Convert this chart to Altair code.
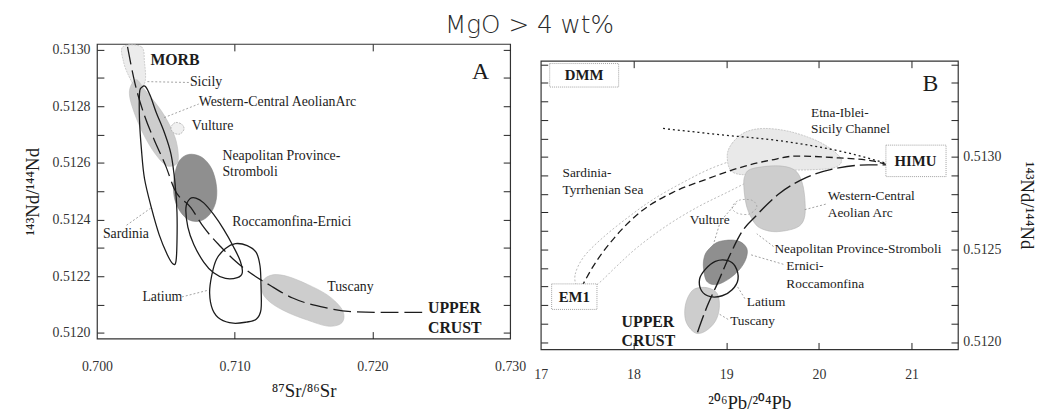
import altair as alt
import pandas as pd

# ---------------- Panel A : 87Sr/86Sr vs 143Nd/144Nd ----------------
sicily_a_x = [0.70187, 0.70323, 0.70345, 0.70352, 0.70323, 0.70273, 0.70230, 0.70194]
sicily_a_y = [0.51301, 0.51301, 0.512955, 0.512894, 0.512866, 0.512873, 0.512908, 0.512955]
wca_a_x = [0.70244, 0.70287, 0.70345, 0.70467, 0.70545, 0.70581, 0.70589, 0.70545, 0.70488, 0.70402, 0.70323, 0.70266, 0.70237]
wca_a_y = [0.512870, 0.512894, 0.512860, 0.512784, 0.512716, 0.512664, 0.512606, 0.512589, 0.512596, 0.512647, 0.512716, 0.512784, 0.512836]
vulture_a_x = [0.70545, 0.70574, 0.70617, 0.70632, 0.70603, 0.70560, 0.70538]
vulture_a_y = [0.512733, 0.512743, 0.512736, 0.512719, 0.512702, 0.512705, 0.512719]
neap_a_x = [0.70596, 0.70667, 0.70761, 0.70833, 0.70868, 0.70861, 0.70811, 0.70739, 0.70660, 0.70596, 0.70560, 0.70560]
neap_a_y = [0.512606, 0.512630, 0.512620, 0.512579, 0.512517, 0.512459, 0.512414, 0.512394, 0.512401, 0.512435, 0.512483, 0.512545]
sard_a_x = [0.70309, 0.70323, 0.70352, 0.70388, 0.70431, 0.70488, 0.70538, 0.70567, 0.70581, 0.70581, 0.70574, 0.70553, 0.70510, 0.70452, 0.70395, 0.70345, 0.70323, 0.70309]
sard_a_y = [0.512846, 0.512866, 0.512870, 0.512836, 0.512777, 0.512709, 0.512630, 0.512527, 0.512425, 0.512322, 0.512253, 0.512243, 0.512277, 0.512346, 0.512442, 0.512545, 0.512647, 0.512750]
rocca_a_x = [0.70646, 0.70674, 0.70718, 0.70775, 0.70847, 0.70919, 0.70990, 0.71041, 0.71055, 0.71019, 0.70933, 0.70847, 0.70775, 0.70703, 0.70660]
rocca_a_y = [0.512442, 0.512473, 0.512476, 0.512459, 0.512418, 0.512366, 0.512305, 0.512253, 0.512212, 0.512195, 0.512192, 0.512212, 0.512250, 0.512312, 0.512373]
latium_a_x = [0.70868, 0.70933, 0.71005, 0.71091, 0.71156, 0.71184, 0.71191, 0.71191, 0.71156, 0.71084, 0.70990, 0.70897, 0.70840, 0.70818, 0.70833]
latium_a_y = [0.512260, 0.512298, 0.512315, 0.512308, 0.512284, 0.512236, 0.512168, 0.512082, 0.512048, 0.512038, 0.512034, 0.512048, 0.512082, 0.512140, 0.512202]
tusc_a_x = [0.71206, 0.71278, 0.71385, 0.71529, 0.71672, 0.71766, 0.71794, 0.71766, 0.71672, 0.71529, 0.71385, 0.71263, 0.71199]
tusc_a_y = [0.512185, 0.512205, 0.512199, 0.512171, 0.512134, 0.512092, 0.512058, 0.512031, 0.512024, 0.512045, 0.512072, 0.512106, 0.512144]
mix_a_x = [0.70222, 0.70273, 0.70345, 0.70416, 0.70502, 0.70560, 0.70682, 0.70775, 0.70897, 0.70990, 0.71112, 0.71256, 0.71421, 0.71658, 0.71852, 0.72067, 0.72383]
mix_a_y = [0.51301, 0.512887, 0.512767, 0.512681, 0.512586, 0.512510, 0.512442, 0.512373, 0.512305, 0.512260, 0.512212, 0.512168, 0.512123, 0.512089, 0.512075, 0.512072, 0.512072]

lead_a_x1 = [0.70366, 0.70488, 0.70215, 0.70617]
lead_a_y1 = [0.512887, 0.512760, 0.512380, 0.512127]
lead_a_x2 = [0.70667, 0.70739, 0.70395, 0.70811]
lead_a_y2 = [0.512884, 0.512808, 0.512442, 0.512151]

lab_a_text = ["Sicily", "Western-Central AeolianArc", "Vulture", "Neapolitan Province-", "Stromboli",
              "Roccamonfina-Ernici", "Sardinia", "Latium", "Tuscany"]
lab_a_x = [0.70675, 0.70739, 0.70689, 0.70911, 0.70911, 0.70983, 0.70043, 0.70330, 0.71672]
lab_a_y = [0.512884, 0.512815, 0.512729, 0.512623, 0.512568, 0.512390, 0.512349, 0.512127, 0.512161]
bold_a_text = ["MORB", "UPPER", "CRUST"]
bold_a_x = [0.70388, 0.72404, 0.72404]
bold_a_y = [0.512962, 0.512086, 0.512017]
letter_a = (["A"], [0.72785], [0.512921])

xlab_a = [0.700, 0.710, 0.720, 0.730]
xtick_a = [0.710, 0.720]
ylab_a = [0.5120, 0.5122, 0.5124, 0.5126, 0.5128, 0.5130]
ytick_a = [0.5120, 0.5121, 0.5122, 0.5123, 0.5124, 0.5125, 0.5126, 0.5127, 0.5128, 0.5129, 0.5130]

# ---------------- Panel B : 206Pb/204Pb vs 143Nd/144Nd ----------------
sard_b_x = [17.394, 17.372, 17.468, 17.681, 17.947, 18.213, 18.532, 18.851, 19.223, 19.574, 19.670, 19.628, 19.330, 19.011, 18.691, 18.372, 18.053, 17.819, 17.628, 17.521]
sard_b_y = [0.512303, 0.512367, 0.512463, 0.512569, 0.512676, 0.512771, 0.512862, 0.512941, 0.513005, 0.513048, 0.513021, 0.512952, 0.512888, 0.512809, 0.512729, 0.512633, 0.512516, 0.512410, 0.512319, 0.512293]
etna_x = [19.011, 19.064, 19.202, 19.404, 19.681, 19.968, 20.160, 20.245, 20.160, 19.915, 19.596, 19.277, 19.064]
etna_y = [0.513005, 0.513074, 0.513133, 0.513154, 0.513138, 0.513090, 0.513032, 0.512979, 0.512941, 0.512931, 0.512926, 0.512904, 0.512920]
wca_b_x = [19.202, 19.277, 19.543, 19.734, 19.819, 19.851, 19.840, 19.755, 19.543, 19.383, 19.298, 19.223, 19.191]
wca_b_y = [0.512899, 0.512936, 0.512952, 0.512931, 0.512862, 0.512755, 0.512665, 0.512617, 0.512596, 0.512612, 0.512649, 0.512729, 0.512835]
vult_b_x = [19.064, 19.138, 19.277, 19.330, 19.245, 19.117]
vult_b_y = [0.512729, 0.512766, 0.512766, 0.512729, 0.512691, 0.512697]
ernici_b_x = [18.819, 18.926, 19.117, 19.223, 19.202, 19.096, 18.926, 18.798, 18.755, 18.766]
ernici_b_y = [0.512505, 0.512543, 0.512548, 0.512505, 0.512436, 0.512367, 0.512314, 0.512324, 0.512399, 0.512463]
latium_b_x = [18.713, 18.777, 18.883, 19.011, 19.096, 19.128, 19.064, 18.957, 18.830, 18.734]
latium_b_y = [0.512340, 0.512394, 0.512436, 0.512441, 0.512410, 0.512340, 0.512282, 0.512250, 0.512245, 0.512277]
tusc_b_x = [18.585, 18.660, 18.798, 18.904, 18.926, 18.883, 18.777, 18.670, 18.574, 18.553]
tusc_b_y = [0.512239, 0.512287, 0.512293, 0.512261, 0.512186, 0.512112, 0.512059, 0.512048, 0.512101, 0.512170]

em1_curve_x = [17.436, 17.553, 17.787, 18.074, 18.426, 18.777, 19.138, 19.489, 19.755, 20.213, 20.574, 20.745]
em1_curve_y = [0.512293, 0.512399, 0.512559, 0.512702, 0.512809, 0.512878, 0.512941, 0.512984, 0.513005, 0.512995, 0.512979, 0.512957]
dot_curve_x = [18.319, 18.904, 19.617, 20.319, 20.745]
dot_curve_y = [0.513154, 0.513122, 0.513085, 0.513021, 0.512963]
crust_curve_x = [18.691, 18.798, 18.904, 19.043, 19.170, 19.330, 19.574, 19.862, 20.213, 20.532, 20.745]
crust_curve_y = [0.512053, 0.512197, 0.512314, 0.512473, 0.512596, 0.512686, 0.512803, 0.512888, 0.512941, 0.512957, 0.512957]

box_names = ["DMM", "EM1", "HIMU"]
box_x1 = [17.096, 17.117, 20.723]
box_x2 = [17.840, 17.606, 21.372]
box_y1 = [0.513505, 0.512314, 0.513064]
box_y2 = [0.513378, 0.512176, 0.512894]
box_tx = [17.468, 17.362, 21.043]
box_ty = [0.513441, 0.512245, 0.512979]

lead_b_x1 = [20.074, 18.979, 18.926, 19.511, 19.617, 19.202, 19.021]
lead_b_y1 = [0.512745, 0.512676, 0.512633, 0.512516, 0.512420, 0.512234, 0.512122]
lead_b_x2 = [19.830, 19.117, 18.862, 19.330, 19.255, 19.117, 18.915]
lead_b_y2 = [0.512713, 0.512755, 0.512527, 0.512585, 0.512473, 0.512303, 0.512154]

lab_b_text = ["Etna-Iblei-", "Sicily Channel", "Sardinia-", "Tyrrhenian Sea", "Western-Central", "Aeolian Arc",
              "Vulture", "Neapolitan Province-Stromboli", "Ernici-", "Roccamonfina", "Latium", "Tuscany"]
lab_b_x = [19.915, 19.915, 17.234, 17.234, 20.096, 20.096, 18.606, 19.521, 19.649, 19.649, 19.223, 19.043]
lab_b_y = [0.513239, 0.513149, 0.512915, 0.512819, 0.512787, 0.512697, 0.512660, 0.512500, 0.512410, 0.512314, 0.512218, 0.512112]
bold_b_text = ["UPPER", "CRUST"]
bold_b_x = [17.872, 17.872]
bold_b_y = [0.512106, 0.512005]
letter_b = (["B"], [21.202], [0.513394])

xlab_b = [17, 18, 19, 20, 21]
xtick_b = [18, 19, 20, 21]
ylab_b = [0.5120, 0.5125, 0.5130]
ytick_b = [0.5120, 0.5121, 0.5122, 0.5123, 0.5124, 0.5125, 0.5126, 0.5127, 0.5128, 0.5129,
           0.5130, 0.5131, 0.5132, 0.5133, 0.5134, 0.5135]

SERIF = "Liberation Serif"
INK = "#1c1c1c"
LABEL_INK = "#333333"


def polys(named):
    rows = []
    for name, xs, ys in named:
        for i, (x, y) in enumerate(zip(xs, ys)):
            rows.append({"shape": name, "i": i, "x": x, "y": y})
    return pd.DataFrame(rows)


def shape_layer(named, xs, ys, **mark):
    return alt.Chart(polys(named)).mark_line(clip=True, interpolate="cardinal-closed", **mark).encode(
        x=alt.X("x:Q", scale=xs, axis=None),
        y=alt.Y("y:Q", scale=ys, axis=None),
        detail="shape:N",
        order="i:Q",
    )


def curve_layer(xv, yv, xs, ys, **mark):
    df = pd.DataFrame({"x": xv, "y": yv, "i": list(range(len(xv)))})
    return alt.Chart(df).mark_line(clip=True, interpolate="monotone", color=INK, **mark).encode(
        x=alt.X("x:Q", scale=xs, axis=None),
        y=alt.Y("y:Q", scale=ys, axis=None),
        order="i:Q",
    )


def text_layer(txt, xv, yv, xs, ys, **mark):
    df = pd.DataFrame({"t": txt, "x": xv, "y": yv})
    return alt.Chart(df).mark_text(font=SERIF, color=INK, baseline="middle", **mark).encode(
        x=alt.X("x:Q", scale=xs, axis=None),
        y=alt.Y("y:Q", scale=ys, axis=None),
        text="t:N",
    )


def leader_layer(x1, y1, x2, y2, xs, ys):
    df = pd.DataFrame({"x": x1, "y": y1, "x2": x2, "y2": y2})
    return alt.Chart(df).mark_rule(color="#8a8a8a", strokeWidth=0.8, strokeDash=[2, 2]).encode(
        x=alt.X("x:Q", scale=xs, axis=None),
        y=alt.Y("y:Q", scale=ys, axis=None),
        x2="x2:Q",
        y2="y2:Q",
    )


def tick_axis(orient, values, size=7):
    return alt.Axis(orient=orient, values=values, labels=False, domain=False, tickSize=size,
                    offset=-size, title=None, grid=False, tickColor="#222", tickWidth=1)


def label_axis(orient, values, fmt, title, label_pad, title_pad):
    return alt.Axis(orient=orient, values=values, format=fmt, ticks=False, tickSize=0, domain=False,
                    labelPadding=label_pad, labelFlush=False, labelColor=LABEL_INK, labelFont=SERIF,
                    labelFontSize=14, title=title, titlePadding=title_pad, titleColor=INK,
                    titleFont=SERIF, titleFontSize=19, titleFontWeight="normal", grid=False)


def axis_layers(corner, xs, ys, xlab_axis, ylab_axis, xt, yt, xt_orients, yt_orients):
    df = pd.DataFrame({"x": [corner[0]], "y": [corner[1]]})
    base = alt.Chart(df).mark_point(opacity=0)
    out = [base.encode(x=alt.X("x:Q", scale=xs, axis=xlab_axis), y=alt.Y("y:Q", scale=ys, axis=ylab_axis))]
    for xo, yo in zip(xt_orients, yt_orients):
        out.append(base.encode(x=alt.X("x:Q", scale=xs, axis=tick_axis(xo, xt)),
                               y=alt.Y("y:Q", scale=ys, axis=tick_axis(yo, yt))))
    return out


MID = "#cdcdcd"
DARK = "#8f8f8f"

# ---------- Panel A ----------
xs_a = alt.Scale(domain=[0.700, 0.730], nice=False, zero=False)
ys_a = alt.Scale(domain=[0.51198, 0.51302], nice=False, zero=False)

ax_a = axis_layers(
    (0.700, 0.5120), xs_a, ys_a,
    label_axis("bottom", xlab_a, ".3f", "⁸⁷Sr/⁸⁶Sr", 21, 9),
    label_axis("left", ylab_a, ".4f", "¹⁴³Nd/¹⁴⁴Nd", 7, 10),
    xtick_a, ytick_a, ["bottom", "top"], ["left", "right"],
)

panel_a = alt.layer(
    *ax_a,
    shape_layer([("Sicily", sicily_a_x, sicily_a_y)], xs_a, ys_a, fill="#ececec", stroke="#c4c4c4", strokeWidth=0.8, strokeDash=[2, 1]),
    shape_layer([("WCA", wca_a_x, wca_a_y)], xs_a, ys_a, fill=MID, stroke="#bdbdbd", strokeWidth=0.6),
    shape_layer([("Vulture", vulture_a_x, vulture_a_y)], xs_a, ys_a, fill="#f0f0f0", stroke="#aaaaaa", strokeWidth=0.8, strokeDash=[2, 1]),
    shape_layer([("Neapolitan", neap_a_x, neap_a_y)], xs_a, ys_a, fill=DARK, stroke="#808080", strokeWidth=0.6),
    shape_layer([("Tuscany", tusc_a_x, tusc_a_y)], xs_a, ys_a, fill=MID, stroke="#bdbdbd", strokeWidth=0.6),
    shape_layer([("Sardinia", sard_a_x, sard_a_y), ("Rocca", rocca_a_x, rocca_a_y), ("Latium", latium_a_x, latium_a_y)],
                xs_a, ys_a, stroke=INK, strokeWidth=1.3),
    curve_layer(mix_a_x, mix_a_y, xs_a, ys_a, strokeWidth=1.3, strokeDash=[18, 6]),
    leader_layer(lead_a_x1, lead_a_y1, lead_a_x2, lead_a_y2, xs_a, ys_a),
    text_layer(lab_a_text, lab_a_x, lab_a_y, xs_a, ys_a, align="left", fontSize=14),
    text_layer(bold_a_text, bold_a_x, bold_a_y, xs_a, ys_a, align="left", fontSize=16, fontWeight="bold"),
    text_layer(*letter_a, xs_a, ys_a, align="center", fontSize=24),
).resolve_scale(x="shared", y="shared").resolve_axis(x="independent", y="independent").properties(width=418, height=298)

# ---------- Panel B ----------
xs_b = alt.Scale(domain=[17, 21.5], nice=False, zero=False)
ys_b = alt.Scale(domain=[0.51196, 0.51352], nice=False, zero=False)

ax_b = axis_layers(
    (17, 0.5120), xs_b, ys_b,
    label_axis("bottom", xlab_b, "d", "²⁰⁶Pb/²⁰⁴Pb", 18, 13),
    label_axis("right", ylab_b, ".4f", "¹⁴³Nd/¹⁴⁴Nd", 5, 16),
    xtick_b, ytick_b, ["bottom", "top"], ["left", "right"],
)

panel_b = alt.layer(
    *ax_b,
    shape_layer([("Sardinia-TS", sard_b_x, sard_b_y)], xs_b, ys_b, stroke="#a8a8a8", strokeWidth=0.8, strokeDash=[2, 2]),
    shape_layer([("Etna", etna_x, etna_y)], xs_b, ys_b, fill="#e9e9e9", stroke="#bdbdbd", strokeWidth=0.8, strokeDash=[2, 1]),
    shape_layer([("WCA", wca_b_x, wca_b_y), ("Tuscany", tusc_b_x, tusc_b_y)], xs_b, ys_b, fill=MID, stroke="#b5b5b5", strokeWidth=0.6),
    shape_layer([("Vulture", vult_b_x, vult_b_y)], xs_b, ys_b, stroke="#a0a0a0", strokeWidth=0.8, strokeDash=[2, 2]),
    shape_layer([("Ernici", ernici_b_x, ernici_b_y)], xs_b, ys_b, fill=DARK, stroke="#7a7a7a", strokeWidth=0.6),
    shape_layer([("Latium", latium_b_x, latium_b_y)], xs_b, ys_b, stroke=INK, strokeWidth=1.4),
    curve_layer(em1_curve_x, em1_curve_y, xs_b, ys_b, strokeWidth=1.3, strokeDash=[7, 4]),
    curve_layer(dot_curve_x, dot_curve_y, xs_b, ys_b, strokeWidth=1.3, strokeDash=[2, 3]),
    curve_layer(crust_curve_x, crust_curve_y, xs_b, ys_b, strokeWidth=1.4, strokeDash=[18, 5]),
    leader_layer(lead_b_x1, lead_b_y1, lead_b_x2, lead_b_y2, xs_b, ys_b),
    alt.Chart(pd.DataFrame({"n": box_names, "x": box_x1, "x2": box_x2, "y": box_y1, "y2": box_y2}))
    .mark_rect(fill="white", stroke="#8a8a8a", strokeWidth=0.8, strokeDash=[1, 1])
    .encode(x=alt.X("x:Q", scale=xs_b, axis=None), x2="x2:Q", y=alt.Y("y:Q", scale=ys_b, axis=None), y2="y2:Q"),
    text_layer(box_names, box_tx, box_ty, xs_b, ys_b, align="center", fontSize=15, fontWeight="bold"),
    text_layer(lab_b_text, lab_b_x, lab_b_y, xs_b, ys_b, align="left", fontSize=13.5),
    text_layer(bold_b_text, bold_b_x, bold_b_y, xs_b, ys_b, align="left", fontSize=16, fontWeight="bold"),
    text_layer(*letter_b, xs_b, ys_b, align="center", fontSize=24),
).resolve_scale(x="shared", y="shared").resolve_axis(x="independent", y="independent").properties(width=422, height=292)

spacer = alt.Chart(pd.DataFrame({"x": [0], "y": [0]})).mark_point(opacity=0).encode(
    x=alt.X("x:Q", axis=None), y=alt.Y("y:Q", axis=None)
).properties(width=422, height=1, view=alt.ViewBackground(stroke="transparent"))

chart = alt.hconcat(
    panel_a,
    alt.vconcat(spacer, panel_b, spacing=16, bounds="flush"),
    spacing=31,
    bounds="flush",
).properties(
    title=alt.TitleParams("MgO > 4 wt%", font="DejaVu Sans", fontSize=25, fontWeight=200,
                          color="#2a2a2a", anchor="middle", offset=3),
    padding={"left": 14, "top": 3, "right": 0, "bottom": 0},
).configure_axis(grid=False).configure_view(stroke="#333", strokeWidth=1.2)

chart.save("out.html", embed_options={"renderer": "svg", "actions": False})
